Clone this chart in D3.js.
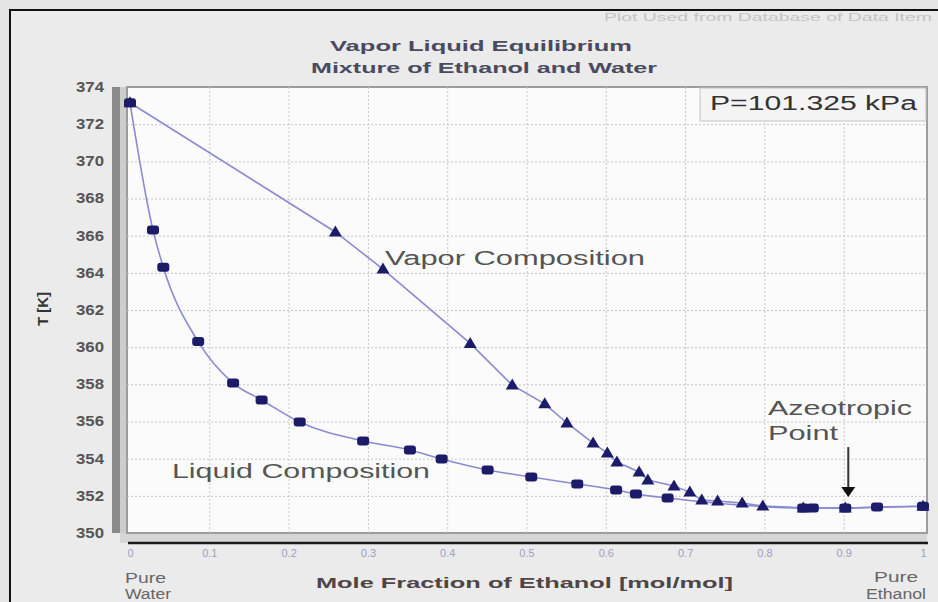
<!DOCTYPE html>
<html>
<head>
<meta charset="utf-8">
<script src="https://cdn.jsdelivr.net/npm/d3@7"></script>
<style>
html,body{margin:0;padding:0;background:#e4e4e4;}
svg{display:block;}
text{font-family:"Liberation Sans",Arial,sans-serif;}
</style>
</head>
<body>
<svg id="chart" width="938" height="602"></svg>
<script>
// ---- data ----
const liquidX = [0, 0.029, 0.042, 0.086, 0.130, 0.166, 0.214, 0.294, 0.353, 0.393, 0.451, 0.506, 0.564, 0.613, 0.638, 0.678, 0.849, 0.861, 0.902, 0.942, 1.0];
const liquidT = [373.15, 366.3, 364.3, 360.3, 358.07, 357.16, 355.97, 354.95, 354.47, 353.98, 353.39, 353.01, 352.64, 352.31, 352.1, 351.88, 351.35, 351.35, 351.34, 351.40, 351.44];
const vaporX  = [0, 0.259, 0.319, 0.429, 0.482, 0.523, 0.551, 0.584, 0.602, 0.614, 0.642, 0.653, 0.686, 0.706, 0.721, 0.741, 0.772, 0.798, 0.849, 0.902, 1.0];
const vaporT  = [373.15, 366.2, 364.2, 360.2, 357.96, 356.95, 355.92, 354.84, 354.3, 353.82, 353.28, 352.85, 352.53, 352.2, 351.77, 351.72, 351.61, 351.45, 351.35, 351.34, 351.44];
const yTicks = [350, 352, 354, 356, 358, 360, 362, 364, 366, 368, 370, 372, 374];
const xTicks = [0, 0.1, 0.2, 0.3, 0.4, 0.5, 0.6, 0.7, 0.8, 0.9, 1];
const xTickLabels = ["0", "0.1", "0.2", "0.3", "0.4", "0.5", "0.6", "0.7", "0.8", "0.9", "1"];
const azeotrope = {x: 0.902, T: 351.34};

const svg = d3.select("#chart");
const W = 938, H = 602;
const x = d3.scaleLinear().domain([0, 1]).range([130, 923]);
const y = d3.scaleLinear().domain([350, 374]).range([533, 87]);
const plotL = 127, plotR = 927, plotT = 87, plotB = 533;

// background + outer frame
svg.append("rect").attr("x",0).attr("y",0).attr("width",W).attr("height",H).attr("fill","#e4e4e4");
svg.append("rect").attr("x",10).attr("y",10).attr("width",940).attr("height",620)
  .attr("fill","#ebebeb").attr("stroke","#111").attr("stroke-width",2);

// faint source note
svg.append("text").attr("x",932).attr("y",21).attr("text-anchor","end")
  .attr("font-size",11).attr("fill","#c4c4c4").attr("textLength",328).attr("lengthAdjust","spacingAndGlyphs")
  .text("Plot Used from Database of Data Item");

// 3D wall and floor
svg.append("rect").attr("x",112).attr("y",plotT).attr("width",8).attr("height",plotB-plotT).attr("fill","#8a8a8a");
svg.append("rect").attr("x",120).attr("y",plotT).attr("width",7).attr("height",plotB-plotT).attr("fill","#cdcdcd");
svg.append("rect").attr("x",120).attr("y",plotB).attr("width",plotR-120).attr("height",10).attr("fill","#d6d6d6");
svg.append("rect").attr("x",plotL).attr("y",plotT).attr("width",plotR-plotL).attr("height",plotB-plotT)
  .attr("fill","#fbfbfb").attr("stroke","#9c9c9c").attr("stroke-width",2);
svg.append("line").attr("x1",128).attr("x2",928).attr("y1",543).attr("y2",543)
  .attr("stroke","#1a1a1a").attr("stroke-width",2.5);

// grid
const gridY = svg.append("g").attr("transform",`translate(${plotL},0)`)
  .call(d3.axisLeft(y).tickValues(yTicks).tickSize(-(plotR-plotL)).tickFormat(""));
gridY.select(".domain").remove();
gridY.selectAll("line").attr("stroke","#c6c6c6").attr("stroke-dasharray","2,2");
gridY.selectAll(".tick").filter(d=>d===350||d===374).remove();
const gridX = svg.append("g").attr("transform",`translate(0,${plotB})`)
  .call(d3.axisBottom(x).tickValues(xTicks).tickSize(-(plotB-plotT)).tickFormat(""));
gridX.select(".domain").remove();
gridX.selectAll("line").attr("stroke","#c6c6c6").attr("stroke-dasharray","2,2");
gridX.selectAll(".tick").filter(d=>d===0||d===1).remove();

// y tick labels
const yAx = svg.append("g").attr("transform","translate(104,0)")
  .call(d3.axisLeft(y).tickValues(yTicks).tickSize(0).tickPadding(0).tickFormat(d3.format("d")));
yAx.select(".domain").remove();
yAx.selectAll("text").attr("font-size",14).attr("font-weight","bold").attr("fill","#555")
  .attr("font-family","Liberation Sans, Arial, sans-serif")
  .attr("textLength",28).attr("lengthAdjust","spacingAndGlyphs");

// x tick labels
const xAx = svg.append("g").attr("transform","translate(0,546)")
  .call(d3.axisBottom(x).tickValues(xTicks).tickSize(0).tickPadding(3).tickFormat((d,i)=>xTickLabels[i]));
xAx.select(".domain").remove();
xAx.selectAll("text").attr("font-size",11).attr("fill","#a29cc0")
  .attr("font-family","Liberation Sans, Arial, sans-serif");

// axis titles
svg.append("text").attr("transform","translate(48,309) rotate(-90)").attr("text-anchor","middle")
  .attr("font-size",15).attr("font-weight","bold").attr("fill","#333").text("T [K]");
svg.append("text").attr("x",316).attr("y",588).attr("font-size",15).attr("font-weight","bold").attr("fill","#4e4646")
  .attr("textLength",417).attr("lengthAdjust","spacingAndGlyphs").text("Mole Fraction of Ethanol [mol/mol]");
svg.append("text").attr("x",125).attr("y",583).attr("font-size",15).attr("fill","#666")
  .attr("textLength",41).attr("lengthAdjust","spacingAndGlyphs").text("Pure");
svg.append("text").attr("x",125).attr("y",599).attr("font-size",14).attr("fill","#666")
  .attr("textLength",46).attr("lengthAdjust","spacingAndGlyphs").text("Water");
svg.append("text").attr("x",874).attr("y",582).attr("font-size",15).attr("fill","#666")
  .attr("textLength",44).attr("lengthAdjust","spacingAndGlyphs").text("Pure");
svg.append("text").attr("x",866).attr("y",599).attr("font-size",14).attr("fill","#666")
  .attr("textLength",60).attr("lengthAdjust","spacingAndGlyphs").text("Ethanol");

// titles
svg.append("text").attr("x",330).attr("y",51).attr("font-size",15).attr("font-weight","bold").attr("fill","#4a4a5e")
  .attr("textLength",302).attr("lengthAdjust","spacingAndGlyphs").text("Vapor Liquid Equilibrium");
svg.append("text").attr("x",311).attr("y",73).attr("font-size",15).attr("font-weight","bold").attr("fill","#4a4a5e")
  .attr("textLength",346).attr("lengthAdjust","spacingAndGlyphs").text("Mixture of Ethanol and Water");

// pressure box
svg.append("rect").attr("x",700).attr("y",88).attr("width",226).attr("height",33)
  .attr("fill","#f4f4f4").attr("stroke","#c4c4c4").attr("stroke-width",1);
svg.append("text").attr("x",710).attr("y",110).attr("font-size",20).attr("fill","#333")
  .attr("textLength",207).attr("lengthAdjust","spacingAndGlyphs").text("P=101.325 kPa");

// series
const liquid = liquidX.map((v,i)=>({x:v, T:liquidT[i]}));
const vapor  = vaporX.map((v,i)=>({x:v, T:vaporT[i]}));
const lineL = d3.line().x(d=>x(d.x)).y(d=>y(d.T)).curve(d3.curveMonotoneX);
const lineV = d3.line().x(d=>x(d.x)).y(d=>y(d.T)).curve(d3.curveLinear);
svg.append("path").datum(vapor).attr("d",lineV).attr("fill","none").attr("stroke","#8a8ad2").attr("stroke-width",1.6);
svg.append("path").datum(liquid).attr("d",lineL).attr("fill","none").attr("stroke","#8a8ad2").attr("stroke-width",1.6);

const navy = "#1b1b6a";
svg.append("g").selectAll("path").data(vapor).join("path")
  .attr("transform",d=>`translate(${x(d.x)},${y(d.T)})`)
  .attr("d","M0,-6.5L6.5,4.5L-6.5,4.5Z").attr("fill",navy);
svg.append("g").selectAll("rect").data(liquid).join("rect")
  .attr("x",d=>x(d.x)-6).attr("y",d=>y(d.T)-4.5).attr("width",12).attr("height",9)
  .attr("rx",3).attr("fill",navy);

// annotations
svg.append("text").attr("x",385).attr("y",265).attr("font-size",20).attr("fill","#555")
  .attr("textLength",260).attr("lengthAdjust","spacingAndGlyphs").text("Vapor Composition");
svg.append("text").attr("x",172).attr("y",478).attr("font-size",20).attr("fill","#555")
  .attr("textLength",258).attr("lengthAdjust","spacingAndGlyphs").text("Liquid Composition");
svg.append("text").attr("x",768).attr("y",415).attr("font-size",20).attr("fill","#555")
  .attr("textLength",144).attr("lengthAdjust","spacingAndGlyphs").text("Azeotropic");
svg.append("text").attr("x",768).attr("y",440).attr("font-size",20).attr("fill","#555")
  .attr("textLength",70).attr("lengthAdjust","spacingAndGlyphs").text("Point");
const ax = x(azeotrope.x) + 3, ay = y(azeotrope.T);
svg.append("line").attr("x1",ax).attr("x2",ax).attr("y1",ay-61).attr("y2",ay-20)
  .attr("stroke","#333").attr("stroke-width",2);
svg.append("path").attr("d",`M${ax-7},${ay-21}L${ax+7},${ay-21}L${ax},${ay-11}Z`).attr("fill","#111");
</script>
</body>
</html>
